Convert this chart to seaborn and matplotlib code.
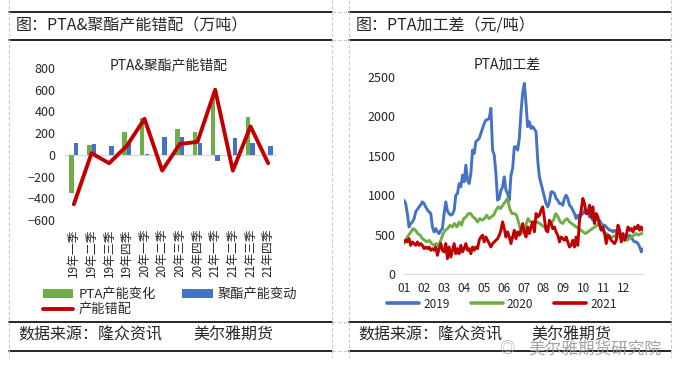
import numpy as np
import pandas as pd
import matplotlib.pyplot as plt
import seaborn as sns
from matplotlib.lines import Line2D
from matplotlib.patches import Patch

sns.set_style('white')
plt.rcParams['font.family'] = ['Noto Sans CJK SC', 'DejaVu Sans']

# 左图：PTA&聚酯产能错配（万吨）
quarters = ['19年一季', '19年二季', '19年三季', '19年四季',
            '20年一季', '20年二季', '20年三季', '20年四季',
            '21年一季', '21年二季', '21年三季', '21年四季']
pta_change = [-350, 90, 0, 215, 335, 0, 240, 215, 545, 0, 350, 0]
polyester_change = [110, 100, 83, 120, 10, 166, 166, 110, -55, 157, 110, 83]
mismatch = [-455, 15, -77, 83, 332, -145, 100, 120, 600, -145, 262, -77]

# 右图：PTA加工差（元/吨），按日期顺序读取
month_labels = ['01', '02', '03', '04', '05', '06', '07', '08', '09', '10', '11', '12']
spread_2019 = [936, 894, 767, 597, 640, 661, 700, 790, 820, 852,
               880, 915, 894, 850, 815, 788, 770, 597, 534, 576,
               534, 513, 555, 576, 767, 915, 800, 767, 746, 760,
               809, 1000, 1021, 1148, 1106, 1254, 1170, 1381, 1191, 1148,
               1275, 1572, 1530, 1678, 1700, 1720, 1784, 1850, 1911, 1953,
               1960, 1975, 2102, 1572, 1508, 1275, 936, 958, 1064, 1106,
               1233, 1064, 1021, 936, 1254, 1339, 1614, 1614, 1572, 1720,
               2050, 2300, 2419, 2165, 1869, 1932, 1847, 1869, 1840, 1805,
               1445, 1233, 1148, 1064, 979, 894, 852, 915, 1042, 1042,
               1021, 958, 936, 894, 894, 873, 958, 1000, 958, 873,
               852, 809, 767, 703, 746, 725, 746, 767, 809, 767,
               788, 725, 725, 682, 725, 703, 682, 682, 640, 619,
               619, 597, 576, 555, 555, 534, 555, 534, 492, 470,
               492, 470, 470, 492, 449, 492, 470, 428, 407, 407,
               386, 343, 280, 322]
spread_2020 = [386, 449, 492, 534, 576, 555, 513, 492, 449, 428,
               407, 428, 386, 364, 386, 364, 428, 513, 555, 576,
               619, 597, 640, 597, 661, 619, 703, 725, 767, 767,
               725, 703, 661, 703, 682, 703, 746, 703, 725, 746,
               809, 852, 830, 873, 915, 958, 830, 767, 767, 746,
               640, 513, 534, 619, 703, 661, 661, 640, 661, 640,
               619, 597, 576, 619, 640, 682, 767, 725, 661, 640,
               682, 703, 661, 640, 619, 597, 576, 555, 534, 513,
               534, 555, 576, 597, 619, 640, 597, 534, 513, 492,
               470, 470, 492, 470, 492, 470, 449, 428, 449, 470,
               492, 513, 492, 513, 513]
spread_2021 = [407, 428, 407, 449, 364, 407, 386, 364, 407, 364,
               386, 364, 322, 343, 322, 343, 301, 322, 301, 343,
               237, 322, 386, 301, 280, 386, 195, 343, 216, 301,
               386, 258, 322, 258, 364, 280, 322, 386, 301, 322,
               258, 343, 301, 343, 322, 428, 470, 492, 407, 470,
               428, 386, 343, 386, 407, 428, 449, 492, 555, 661,
               576, 470, 534, 470, 386, 470, 555, 449, 534, 492,
               555, 640, 534, 470, 597, 513, 597, 661, 534, 767,
               725, 746, 809, 852, 703, 555, 534, 682, 640, 576,
               597, 534, 492, 407, 470, 449, 428, 470, 407, 343,
               364, 428, 343, 470, 364, 682, 809, 958, 894, 767,
               767, 873, 725, 852, 640, 767, 725, 619, 555, 597,
               513, 386, 492, 470, 428, 407, 386, 428, 619, 555,
               407, 513, 428, 492, 597, 555, 576, 534, 597, 576,
               619, 555, 597, 555]

GREEN, BLUE, RED = '#70AD47', '#4472C4', '#C00000'
W, H = 680, 377


def fx(x):
    return x / W


def fy(y):
    return 1 - y / H


fig = plt.figure(figsize=(W / 100, H / 100), dpi=100)

# ---- 左图 ----
ax1 = fig.add_axes([fx(65), fy(220), (277 - 65) / W, (220 - 68) / H])
bars = pd.DataFrame({
    '季度': quarters * 2,
    '产能': pta_change + polyester_change,
    '类别': ['PTA产能变化'] * 12 + ['聚酯产能变动'] * 12,
})
sns.barplot(data=bars, x='季度', y='产能', hue='类别', palette=[GREEN, BLUE],
            width=0.5, saturation=1, linewidth=0, legend=False, ax=ax1)
sns.lineplot(x=np.arange(len(quarters)), y=mismatch, color=RED, linewidth=2.8,
             ax=ax1)
ax1.axhline(0, color='#d9d9d9', linewidth=1, zorder=0)
ax1.set_ylim(-600, 800)
ax1.set_yticks(range(-600, 801, 200))
ax1.set_xlim(-0.5, 11.5)
ax1.set_xticks(range(len(quarters)))
ax1.set_xticklabels(quarters, rotation=90, fontsize=8.5)
ax1.tick_params(axis='x', length=0, pad=6)
ax1.tick_params(axis='y', length=0, pad=7, labelsize=9)
ax1.set_xlabel('')
ax1.set_ylabel('')
for s in ax1.spines.values():
    s.set_visible(False)

handles1 = [Patch(color=GREEN, linewidth=0), Line2D([], [], color=RED, linewidth=2.8),
            Patch(color=BLUE, linewidth=0)]
labels1 = ['PTA产能变化', '产能错配', '聚酯产能变动']
fig.legend(handles1, labels1, loc='upper left', bbox_to_anchor=(fx(43), fy(288)),
           ncol=2, frameon=False, fontsize=9.5, borderpad=0, handlelength=2.3,
           handleheight=0.6, handletextpad=0.4, columnspacing=2.0,
           labelspacing=0.15, borderaxespad=0)

# ---- 右图 ----
ax2 = fig.add_axes([fx(404), fy(274), (643 - 404) / W, (274 - 77) / H])
spread = pd.DataFrame({
    '月份': np.concatenate([np.linspace(0, 12, len(spread_2019)),
                          np.linspace(0, 12, len(spread_2020)),
                          np.linspace(0, 12, len(spread_2021))]),
    '加工差': spread_2019 + spread_2020 + spread_2021,
    '年份': ['2019'] * len(spread_2019) + ['2020'] * len(spread_2020)
          + ['2021'] * len(spread_2021),
})
sns.lineplot(data=spread, x='月份', y='加工差', hue='年份',
             palette=[BLUE, GREEN, RED], linewidth=2.1, estimator=None,
             legend=False, ax=ax2)
ax2.set_xlim(0, 12)
ax2.set_ylim(0, 2500)
ax2.set_yticks(range(0, 2501, 500))
ax2.set_xticks(range(13))
ax2.set_xticklabels(month_labels + [''], fontsize=8.5)
ax2.tick_params(axis='x', length=3, color='#d9d9d9', pad=3)
ax2.tick_params(axis='y', length=0, pad=6, labelsize=9)
ax2.set_xlabel('')
ax2.set_ylabel('')
for k, s in ax2.spines.items():
    s.set_visible(k == 'bottom')
ax2.spines['bottom'].set_color('#d9d9d9')

handles2 = [Line2D([], [], color=c, linewidth=2.6) for c in (BLUE, GREEN, RED)]
fig.legend(handles2, ['2019', '2020', '2021'], loc='center',
           bbox_to_anchor=(fx(502), fy(304)), ncol=3, frameon=False,
           fontsize=8.5, handlelength=2.7, handletextpad=0.35,
           columnspacing=1.8, borderpad=0)

# ---- 标题与边框 ----
fig.text(fx(169), fy(65), 'PTA&聚酯产能错配', ha='center', va='center', fontsize=10)
fig.text(fx(507), fy(65), 'PTA加工差', ha='center', va='center', fontsize=10)
fig.text(fx(16), fy(26), '图：PTA&聚酯产能错配（万吨）', va='center', fontsize=11.5)
fig.text(fx(356), fy(26), '图：PTA加工差（元/吨）', va='center', fontsize=11.5)
for x0 in (18, 358):
    fig.text(fx(x0), fy(335), '数据来源：隆众资讯', va='center', fontsize=11.5)
fig.text(fx(193), fy(335), '美尔雅期货', va='center', fontsize=11.5)
fig.text(fx(531), fy(335), '美尔雅期货', va='center', fontsize=11.5)

for (a, b) in ((9, 332), (349, 671)):
    for y in (12, 40, 322, 351):
        fig.add_artist(Line2D([fx(a), fx(b)], [fy(y), fy(y)], color='black',
                              linewidth=1.2))
for y in (12, 40, 322, 351):
    fig.add_artist(Line2D([fx(332), fx(349)], [fy(y), fy(y)], color='#c8c8c8',
                          linewidth=0.8, linestyle=(0, (3, 2))))
for x in (9, 332, 349, 671):
    fig.add_artist(Line2D([fx(x), fx(x)], [fy(0), fy(357)], color='#c8c8c8',
                          linewidth=0.8, linestyle=(0, (3, 2))))

# 水印
fig.text(fx(595), fy(349), '美尔雅期货研究院', ha='center', va='center',
         fontsize=12, color='#9a9a9a', alpha=0.9)
fig.text(fx(507), fy(348), '◎', ha='center', va='center', fontsize=11,
         color='#b0b0b0')

fig.savefig('out.png', dpi=100)
